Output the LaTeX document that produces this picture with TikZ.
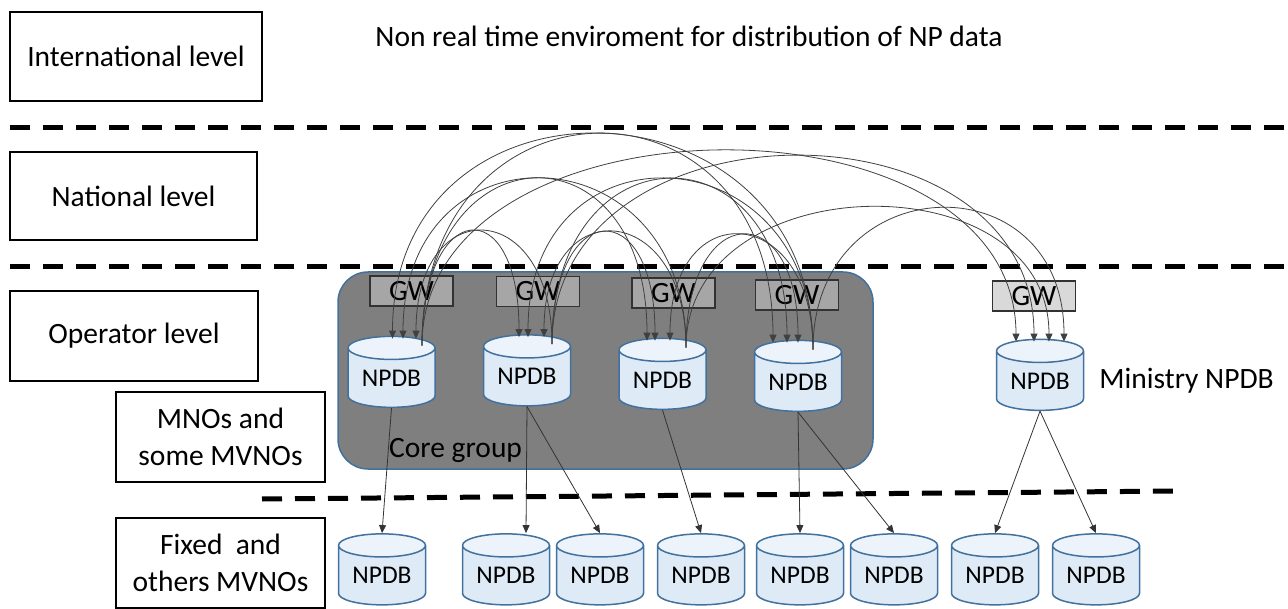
\documentclass[tikz,border=0pt]{standalone}
\usepackage{fontspec}
\setmainfont{Carlito}
\usetikzlibrary{shapes.geometric,arrows.meta,positioning}
\definecolor{dbborder}{RGB}{65,113,156}
\definecolor{dbbody}{RGB}{222,235,247}
\definecolor{dbtop}{RGB}{236,243,250}
\definecolor{coregray}{RGB}{127,127,127}
\definecolor{gwdark}{RGB}{166,166,166}
\definecolor{gwlight}{RGB}{217,217,217}
\definecolor{gwborder}{RGB}{50,50,50}

\begin{document}
\begin{tikzpicture}[
    x=1pt, y=1pt,
    every node/.style={font=\fontsize{29.5}{36.5}\selectfont},
    level/.style={rectangle, draw=black, line width=2pt, minimum width=250pt, minimum height=89pt, align=center, inner sep=0pt},
    npdb/.style={cylinder, shape border rotate=90, aspect=0.39, draw=dbborder, line width=1.5pt, cylinder uses custom fill, cylinder body fill=dbbody, cylinder end fill=dbtop, minimum width=87pt, minimum height=71pt, inner sep=0pt, font=\fontsize{25.5}{30}\selectfont},
    gw/.style={rectangle, draw=gwborder, line width=1.5pt, fill=gwdark, minimum width=83pt, minimum height=30pt, inner sep=0pt},
    core/.style={rectangle, draw=dbborder, line width=1.5pt, fill=coregray, rounded corners=30pt, minimum width=535pt, minimum height=197pt},
    sep/.style={line width=5pt, dash pattern=on 20pt off 13pt},
    link/.style={-{Triangle[length=8pt,width=7pt]}, line width=0.8pt, color=black!80},
    sync/.style={-{Triangle[length=8pt,width=7pt]}, line width=0.8pt, color=black!75}
]
\useasboundingbox (0,0) rectangle (1288,-609);

% Level boxes
\node[level, minimum width=252pt] (lvlint) at (136,-56.5) {International level};
\node[level, minimum width=247pt, minimum height=88pt] (lvlnat) at (133.5,-196) {National level};
\node[level, minimum width=248pt, minimum height=90pt] (lvlop) at (134,-336) {Operator level};
\node[level, minimum width=209pt, minimum height=90pt] (lvlmno) at (220.5,-437) {MNOs and\\some MVNOs};
\node[level, minimum width=209pt, minimum height=90pt] (lvlfix) at (220.5,-563) {Fixed\ \ and\\others MVNOs};

\node (title) at (689,-36) {Non real time enviroment for distribution of NP data};

% Separators
\draw[sep] (10,-128) -- (1288,-128);
\draw[sep] (10,-267) -- (1288,-267);
\draw[sep] (262,-499) -- (1181,-491);

% Core group
\node[core] (core) at (605.5,-370.5) {};
\node[anchor=west, inner sep=0pt] (corelabel) at (389,-450) {Core group};

% Operator NPDBs
\node[npdb] (db1) at (391.5,-378) {NPDB};
\node[npdb] (db2) at (527,-376.5) {NPDB};
\node[npdb] (db3) at (662.5,-380) {NPDB};
\node[npdb] (db4) at (798,-382) {NPDB};
\node[npdb] (db5) at (1040,-381) {NPDB};
\node[right=15pt of db5, inner sep=0pt] (ministry) {Ministry NPDB};

% Gateways
\node[gw, above=29pt of db1, xshift=20pt] (gw1) {GW};
\node[gw, above=27pt of db2, xshift=11pt] (gw2) {GW};
\node[gw, above=29pt of db3, xshift=11pt] (gw3) {GW};
\node[gw, above=29pt of db4, xshift=-1pt] (gw4) {GW};
\node[gw, above=27pt of db5, xshift=-6pt, fill=gwlight] (gw5) {GW};

% Fixed / other MVNO NPDBs
\node[npdb] (b1) at (382,-575.5) {NPDB};
\node[npdb] (b2) at (506,-575.5) {NPDB};
\node[npdb] (b3) at (600,-575.5) {NPDB};
\node[npdb] (b4) at (701,-575.5) {NPDB};
\node[npdb] (b5) at (800,-575.5) {NPDB};
\node[npdb] (b6) at (894,-575.5) {NPDB};
\node[npdb] (b7) at (995,-575.5) {NPDB};
\node[npdb] (b8) at (1096,-575.5) {NPDB};

% Synchronisation from db1
\draw[sync] ([xshift=30.5pt,yshift=-10pt]db1.north) .. controls +(0,147) and +(0,147) .. ([xshift=-8pt,yshift=-3pt]db2.north);
\draw[sync] ([xshift=30.5pt,yshift=-10pt]db1.north) .. controls +(0,219) and +(0,219) .. ([xshift=-15.5pt,yshift=-3pt]db3.north);
\draw[sync] ([xshift=30.5pt,yshift=-10pt]db1.north) .. controls +(0,280) and +(0,280) .. ([xshift=-25pt,yshift=-3pt]db4.north);
\draw[sync] ([xshift=30.5pt,yshift=-10pt]db1.north) .. controls +(0,257) and +(0,257) .. ([xshift=-24pt,yshift=-3pt]db5.north);

% Synchronisation from db2
\draw[sync] ([xshift=25pt,yshift=-10pt]db2.north) .. controls +(0,147) and +(0,147) .. ([xshift=24.5pt,yshift=-3pt]db1.north);
\draw[sync] ([xshift=25pt,yshift=-10pt]db2.north) .. controls +(0,147) and +(0,147) .. ([xshift=-7.5pt,yshift=-3pt]db3.north);
\draw[sync] ([xshift=25pt,yshift=-10pt]db2.north) .. controls +(0,219) and +(0,219) .. ([xshift=-11pt,yshift=-3pt]db4.north);
\draw[sync] ([xshift=25pt,yshift=-10pt]db2.north) .. controls +(0,249) and +(0,249) .. ([xshift=-6pt,yshift=-3pt]db5.north);

% Synchronisation from db3
\draw[sync] ([xshift=23.5pt,yshift=-10pt]db3.north) .. controls +(0,219) and +(0,219) .. ([xshift=11.5pt,yshift=-3pt]db1.north);
\draw[sync] ([xshift=23.5pt,yshift=-10pt]db3.north) .. controls +(0,147) and +(0,147) .. ([xshift=17pt,yshift=-3pt]db2.north);
\draw[sync] ([xshift=23.5pt,yshift=-10pt]db3.north) .. controls +(0,147) and +(0,147) .. ([yshift=-3pt]db4.north);
\draw[sync] ([xshift=23.5pt,yshift=-10pt]db3.north) .. controls +(0,183) and +(0,183) .. ([xshift=9pt,yshift=-3pt]db5.north);

% Synchronisation from db4
\draw[sync] ([xshift=15pt,yshift=-10pt]db4.north) .. controls +(0,280) and +(0,280) .. ([xshift=1pt,yshift=-3pt]db1.north);
\draw[sync] ([xshift=15pt,yshift=-10pt]db4.north) .. controls +(0,219) and +(0,219) .. ([xshift=1pt,yshift=-3pt]db2.north);
\draw[sync] ([xshift=15pt,yshift=-10pt]db4.north) .. controls +(0,147) and +(0,147) .. ([xshift=7.5pt,yshift=-3pt]db3.north);
\draw[sync] ([xshift=15pt,yshift=-10pt]db4.north) .. controls +(0,183) and +(0,183) .. ([xshift=24pt,yshift=-3pt]db5.north);

% Distribution downwards
\draw[link] (db1.south) -- (b1.north);
\draw[link] (db2.south) -- ([xshift=20pt]b2.north);
\draw[link] (db2.south) -- (b3.north);
\draw[link] (db3.south) -- (b4.north);
\draw[link] (db4.south) -- (b5.north);
\draw[link] (db4.south) -- (b6.north);
\draw[link] (db5.south) -- (b7.north);
\draw[link] (db5.south) -- (b8.north);

\end{tikzpicture}
\end{document}
